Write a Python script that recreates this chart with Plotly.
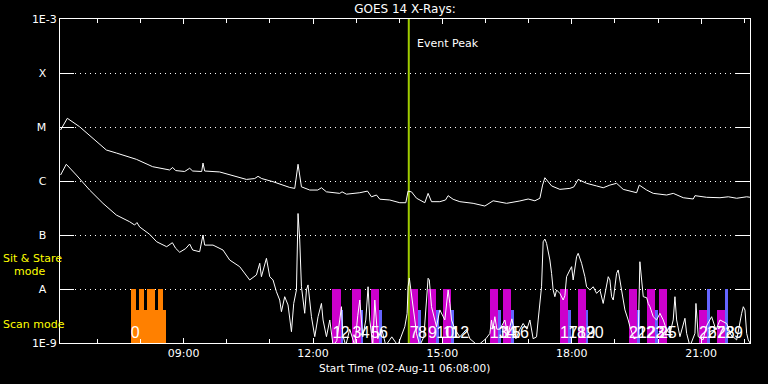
import plotly.graph_objects as go
import pandas as pd

DAY = pd.Timestamp("2011-08-02")

# ---- GOES 14 long channel (decimal hours UT, W/m^2)
long_hours = [6.147, 6.303, 6.588, 6.897, 7.208, 7.440, 7.904, 8.282, 8.676, 8.746, 8.815, 9.024,
              9.140, 9.210, 9.419, 9.449, 9.488, 9.836, 10.456, 10.648, 10.725, 10.811, 11.073,
              11.460, 11.577, 11.653, 11.732, 11.925, 12.110, 12.196, 12.312, 12.620, 12.674,
              12.776, 13.086, 13.263, 13.356, 13.472, 13.549, 13.780, 14.013, 14.152, 14.205,
              14.284, 14.400, 14.593, 14.669, 14.748, 14.941, 15.073, 15.133, 15.249, 15.405,
              15.713, 15.869, 15.985, 16.177, 16.488, 16.797, 16.990, 17.145, 17.261, 17.324,
              17.377, 17.533, 17.725, 17.957, 18.050, 18.149, 18.344, 18.576, 18.730, 18.885,
              19.040, 19.193, 19.504, 19.565, 19.737, 19.890, 20.201, 20.354, 20.586, 20.818,
              20.857, 21.129, 21.437, 21.630, 21.825, 22.057, 22.133]
long_flux = [8.8e-6, 1.45e-5, 1.01e-5, 6.2e-6, 3.75e-6, 3.3e-6, 2.52e-6, 1.84e-6, 1.6e-6, 1.78e-6,
             1.56e-6, 1.5e-6, 1.72e-6, 1.53e-6, 1.5e-6, 2.15e-6, 1.53e-6, 1.47e-6, 1.07e-6, 1.11e-6,
             1.22e-6, 1.11e-6, 9.7e-7, 7.6e-7, 7.3e-7, 2.04e-6, 7.8e-7, 6.8e-7, 6.8e-7, 7.5e-7,
             6.3e-7, 5.9e-7, 6.3e-7, 5.7e-7, 6.07e-7, 6.5e-7, 5.1e-7, 5.5e-7, 4.6e-7, 4.45e-7,
             3.96e-7, 3.96e-7, 6.5e-7, 6.3e-7, 4.8e-7, 3.96e-7, 5.9e-7, 4.14e-7, 4.14e-7, 4.45e-7,
             5.35e-7, 4.58e-7, 4.14e-7, 3.86e-7, 3.55e-7, 3.44e-7, 4.3e-7, 3.86e-7, 4.27e-7, 4.64e-7,
             4.3e-7, 4.79e-7, 8.4e-7, 1.15e-6, 8.1e-7, 7.0e-7, 7.3e-7, 7.8e-7, 1.07e-6, 9.06e-7,
             8.1e-7, 7.5e-7, 8.4e-7, 9.06e-7, 7.0e-7, 6.07e-7, 8.4e-7, 6.8e-7, 5.9e-7, 5.5e-7,
             5.9e-7, 4.9e-7, 4.64e-7, 5.35e-7, 4.99e-7, 4.9e-7, 5.1e-7, 4.79e-7, 5.1e-7, 5.0e-7]

# ---- GOES 14 short channel (decimal hours UT, W/m^2)
short_hours = [6.147, 6.279, 6.512, 6.820, 7.129, 7.440, 7.748, 7.864, 7.918, 7.980, 8.212, 8.375,
               8.607, 8.739, 8.815, 8.908, 9.047, 9.140, 9.210, 9.372, 9.449, 9.488, 9.681, 9.913,
               10.068, 10.300, 10.532, 10.688, 10.765, 10.804, 10.920, 10.997, 11.073, 11.152,
               11.228, 11.268, 11.344, 11.421, 11.500, 11.553, 11.616, 11.653, 11.692, 11.732,
               11.808, 11.848, 11.885, 11.964, 12.041, 12.117, 12.196, 12.233, 12.312, 12.389,
               12.465, 12.551, 12.620, 12.660, 12.690, 12.760, 12.852, 12.968, 13.038, 13.084,
               13.154, 13.224, 13.277, 13.317, 13.386, 13.433, 13.502, 13.595, 13.688, 13.827,
               13.966, 14.059, 14.129, 14.182, 14.205, 14.233, 14.284, 14.321, 14.361, 14.400,
               14.477, 14.570, 14.669, 14.697, 14.748, 14.864, 14.941, 15.057, 15.096, 15.133,
               15.173, 15.212, 15.289, 15.405, 15.560, 15.637, 15.822, 16.008, 16.101, 16.140,
               16.170, 16.217, 16.263, 16.333, 16.449, 16.518, 16.611, 16.704, 16.797, 16.873,
               16.959, 17.029, 17.105, 17.184, 17.221, 17.261, 17.300, 17.337, 17.377, 17.416,
               17.493, 17.532, 17.569, 17.609, 17.648, 17.725, 17.801, 17.841, 17.880, 17.957,
               17.997, 18.033, 18.112, 18.149, 18.228, 18.305, 18.344, 18.421, 18.498, 18.576,
               18.653, 18.729, 18.808, 18.846, 18.885, 18.924, 18.962, 19.040, 19.077, 19.117,
               19.194, 19.233, 19.309, 19.349, 19.442, 19.542, 19.580, 19.620, 19.658, 19.737,
               19.773, 19.813, 19.889, 19.968, 20.045, 20.121, 20.200, 20.277, 20.353, 20.393,
               20.432, 20.509, 20.585, 20.625, 20.664, 20.741, 20.857, 20.880, 20.933, 21.043,
               21.135, 21.244, 21.344, 21.437, 21.592, 21.692, 21.824, 21.901, 21.940, 21.978,
               22.017, 22.056, 22.093, 22.133]
short_flux = [1.29e-6, 2.04e-6, 1.29e-6, 6.8e-7, 3.86e-7, 2.34e-7, 1.76e-7, 1.53e-7, 1.7e-7, 1.41e-7,
              1.03e-7, 7.5e-8, 6.07e-8, 7.2e-8, 5.67e-8, 4.79e-8, 5.6e-8, 6.8e-8, 5.27e-8, 4.9e-8,
              1.0e-7, 6.5e-8, 6.5e-8, 5.27e-8, 3.44e-8, 2.59e-8, 1.47e-8, 1.82e-8, 2.99e-8, 1.69e-8,
              3.7e-8, 1.69e-8, 1.47e-8, 8.9e-9, 6.25e-9, 3.8e-9, 7.2e-9, 5.06e-9, 1.62e-9, 5.4e-9,
              9.6e-9, 2.5e-7, 8.1e-8, 1.1e-8, 3.55e-9, 9.6e-9, 1.19e-8, 3.07e-9, 1.31e-9, 3.07e-9,
              5.4e-9, 2.67e-9, 1.31e-9, 2.67e-9, 9e-10, 1.1e-9, 2.67e-9, 4.7e-9, 1.4e-9, 9e-10,
              1.8e-9, 9e-10, 3.2e-9, 6.25e-9, 1.3e-9, 2.67e-9, 1.1e-8, 2.67e-9, 9e-10, 6.25e-9,
              1.2e-9, 1.8e-9, 9e-10, 1.3e-9, 9e-10, 1.4e-9, 2.0e-9, 3.5e-9, 1.1e-8, 1.6e-8,
              8.3e-9, 5.4e-9, 2.67e-9, 1.5e-9, 9e-10, 1.3e-9, 1.58e-8, 1.47e-8, 4.7e-9, 2.0e-9,
              4.1e-9, 2.67e-9, 4.7e-9, 9.6e-9, 5.4e-9, 2.67e-9, 1.8e-9, 1.3e-9, 1.8e-9, 1.2e-9,
              9e-10, 1.2e-9, 1.5e-9, 2.67e-9, 1.8e-9, 3.07e-9, 1.8e-9, 1.8e-9, 2.67e-9, 1.4e-9,
              2.8e-9, 1.2e-9, 1.8e-9, 2.3e-9, 1.8e-9, 2.67e-9, 1.2e-9, 1.3e-9, 2.67e-9, 5.4e-9,
              1.1e-8, 7.5e-8, 8.4e-8, 7.0e-8, 3.44e-8, 1.95e-8, 9.6e-9, 7.2e-9, 9.6e-9, 8.3e-9,
              6.25e-9, 7.5e-9, 1.69e-8, 2.25e-8, 2.59e-8, 1.47e-8, 3.96e-8, 4.58e-8, 2.99e-8, 1.69e-8,
              1.1e-8, 9.6e-9, 1.1e-8, 8.3e-9, 9.6e-9, 5.4e-9, 1.1e-8, 1.69e-8, 1.47e-8, 7.2e-9,
              6.25e-9, 1.95e-8, 2.25e-8, 1.47e-8, 7.2e-9, 4.1e-9, 2.67e-9, 2.0e-9, 1.2e-9, 1.3e-9,
              3.2e-8, 1.28e-8, 7.2e-9, 6.9e-9, 5.4e-9, 4.7e-9, 3.07e-9, 2.67e-9, 3.55e-9, 2.67e-9,
              1.74e-9, 1.51e-9, 2.67e-9, 7.2e-9, 2.67e-9, 1.31e-9, 2.3e-9, 2.87e-9, 1.51e-9, 8.7e-10,
              1.51e-9, 5.4e-9, 1.31e-9, 1.14e-9, 2.15e-9, 3.07e-9, 1.74e-9, 2.67e-9, 2.3e-9, 1.41e-9,
              1.14e-9, 2.67e-9, 3.55e-9, 4.7e-9, 4.08e-9, 1.51e-9, 1.14e-9, 1.0e-9]

# ---- Observation bars
orange_start = [7.771, 7.771, 7.964, 8.150, 8.405]      # hours UT
orange_minutes = [49.7, 7.0, 6.5, 10.7, 7.0]
orange_mode = ["scan", "stare", "stare", "stare", "stare"]

obs_start = [12.451, 12.915, 13.340, 14.245, 14.669, 15.017, 16.101, 16.402,
             17.725, 18.135, 19.326, 19.744, 20.022, 20.950, 21.367]
magenta_minutes = 11.5
blue_minutes = 3.5
magenta_mode = ["stare"] * 13 + ["scan", "scan"]
blue_mode = ["scan"] * 12 + [None, "stare", "stare"]
mode_level = {"stare": 1e-8, "scan": 4.1e-9}

event_peak = 14.221
x_range = [6.1333, 22.1333]

COL_ORANGE = "#ff8000"
COL_MAGENTA = "#cc00cc"
COL_BLUE = "#6464ff"
COL_EVENT = "#a0cd00"


def t(h):
    return DAY + pd.to_timedelta(h, unit="h")


def ts(hs):
    return [t(h) for h in hs]


fig = go.Figure()

MS_MIN = 60000

# orange
fig.add_trace(go.Bar(x=ts(orange_start), y=[mode_level[m] for m in orange_mode],
                     width=[m * MS_MIN for m in orange_minutes], offset=0,
                     marker=dict(color=COL_ORANGE, line=dict(width=0)), hoverinfo="skip"))
# magenta
fig.add_trace(go.Bar(x=ts(obs_start), y=[mode_level[m] for m in magenta_mode],
                     width=magenta_minutes * MS_MIN, offset=0,
                     marker=dict(color=COL_MAGENTA, line=dict(width=0)), hoverinfo="skip"))
# blue
b_x, b_y = [], []
for s, m in zip(obs_start, blue_mode):
    if m is not None:
        b_x.append(t(s + magenta_minutes / 60.0))
        b_y.append(mode_level[m])
fig.add_trace(go.Bar(x=b_x, y=b_y, width=blue_minutes * MS_MIN, offset=0,
                     marker=dict(color=COL_BLUE, line=dict(width=0)), hoverinfo="skip"))

# labels
lab_x, lab_t = [t(orange_start[0])], ["0"]
n = 1
for s, m in zip(obs_start, blue_mode):
    lab_x.append(t(s)); lab_t.append(str(n)); n += 1
    if m is not None:
        lab_x.append(t(s + magenta_minutes / 60.0)); lab_t.append(str(n)); n += 1
fig.add_trace(go.Scatter(x=lab_x, y=[1.45e-9] * len(lab_x), mode="text", text=lab_t,
                         textposition="middle right",
                         textfont=dict(family="Liberation Sans", size=16, color="white"),
                         hoverinfo="skip"))

# event peak line
fig.add_trace(go.Scatter(x=[t(event_peak), t(event_peak)], y=[1e-9, 1e-3], mode="lines",
                         line=dict(color=COL_EVENT, width=2), hoverinfo="skip"))

# curves
fig.add_trace(go.Scatter(x=ts(long_hours), y=long_flux, mode="lines",
                         line=dict(color="white", width=1), hoverinfo="skip"))
fig.add_trace(go.Scatter(x=ts(short_hours), y=short_flux, mode="lines",
                         line=dict(color="white", width=1), hoverinfo="skip"))

NB = "\u00a0"
fig.update_layout(
    width=768, height=384, margin=dict(l=60, r=18, t=19, b=41),
    paper_bgcolor="black", plot_bgcolor="black", showlegend=False,
    barmode="overlay", bargap=0,
    font=dict(family="DejaVu Sans", color="white", size=11),
    title=dict(text="GOES 14 X-Rays:", x=0.5, xref="paper", y=1 - 9 / 384, yanchor="middle",
               font=dict(size=12, color="white")),
    xaxis=dict(type="date", range=[t(x_range[0]), t(x_range[1])], showgrid=False, zeroline=False,
               showline=True, linecolor="white", linewidth=1, mirror="ticks",
               ticks="inside", ticklen=5, tickcolor="white", tickwidth=1,
               tick0=DAY, dtick=3 * 3600000, tickformat="%H:%M",
               tickfont=dict(size=11, color="white"),
               minor=dict(ticks="inside", dtick=3600000, ticklen=4, tickcolor="white", showgrid=False)),
    yaxis=dict(type="log", range=[-9, -3], zeroline=False,
               showline=True, linecolor="white", linewidth=1, mirror="ticks",
               ticks="inside", ticklen=14, tickcolor="white", tickwidth=1,
               tickvals=[1e-9, 1e-8, 1e-7, 1e-6, 1e-5, 1e-4, 1e-3],
               ticktext=["1E-9", "A" + NB * 3, "B" + NB * 3, "C" + NB * 3, "M" + NB * 3,
                         "X" + NB * 3, "1E-3"],
               tickfont=dict(size=11, color="white"),
               showgrid=True, gridcolor="white", gridwidth=1, griddash="1px,4px"),
    annotations=[
        dict(text="Event Peak", x=t(event_peak), xref="x", y=(343 - 43) / 324, yref="paper",
             xanchor="left", yanchor="middle", xshift=6, showarrow=False,
             font=dict(size=11, color="white")),
        dict(text="Start Time (02-Aug-11 06:08:00)", x=0.4996, xref="paper",
             y=(343 - 368) / 324, yref="paper", xanchor="center", yanchor="middle",
             showarrow=False, font=dict(size=10.5, color="white")),
        dict(text="Sit & Stare", x=(1 - 60) / 690, xref="paper", y=(343 - 258) / 324, yref="paper",
             xanchor="left", yanchor="middle", showarrow=False, font=dict(size=11, color="#ffff00")),
        dict(text="mode", x=(12 - 60) / 690, xref="paper", y=(343 - 271) / 324, yref="paper",
             xanchor="left", yanchor="middle", showarrow=False, font=dict(size=11, color="#ffff00")),
        dict(text="Scan mode", x=(1 - 60) / 690, xref="paper", y=(343 - 324) / 324, yref="paper",
             xanchor="left", yanchor="middle", showarrow=False, font=dict(size=11, color="#ffff00")),
    ],
)

fig.write_html("out.html")
